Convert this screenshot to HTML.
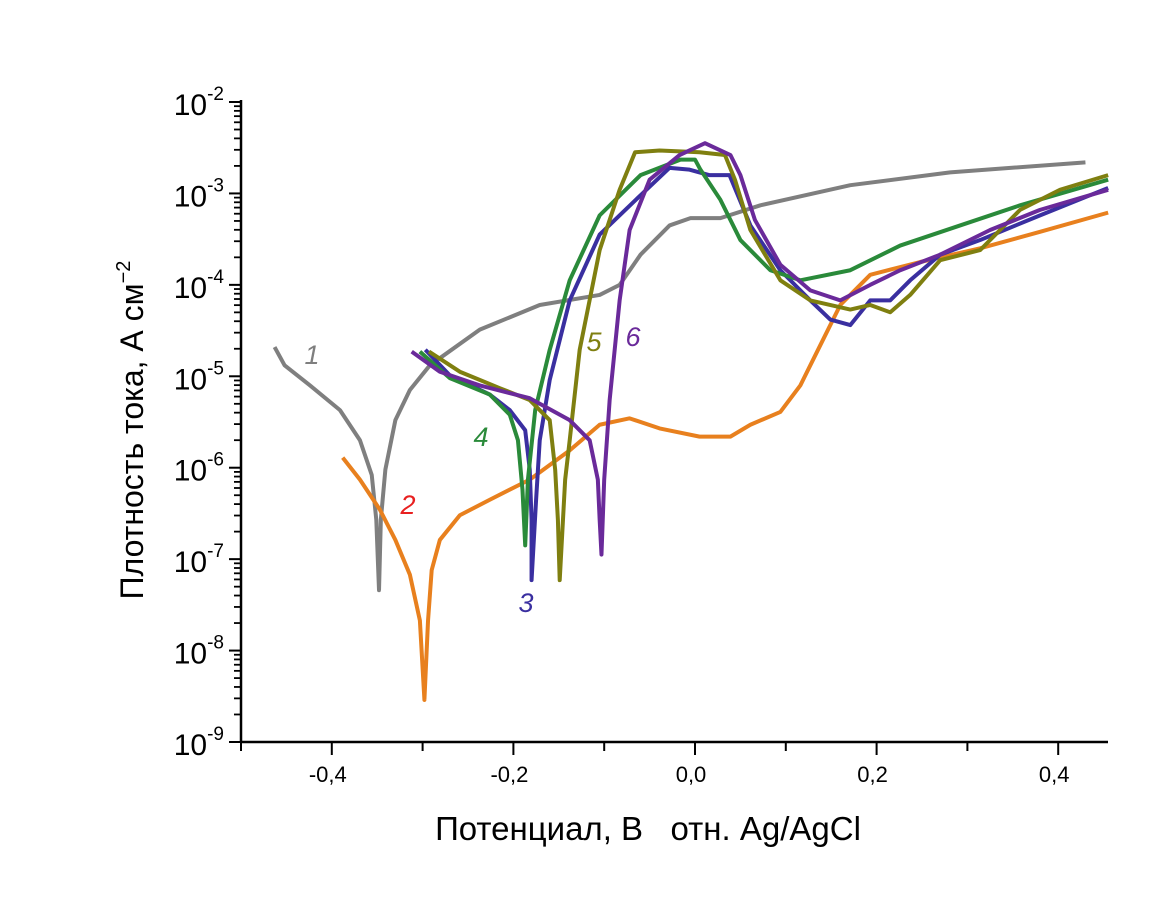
<!DOCTYPE html>
<html><head><meta charset="utf-8"><style>
body{margin:0;background:#fff}
svg text{font-family:"Liberation Sans",sans-serif}
</style></head><body>
<svg id="c" width="1175" height="909" xmlns="http://www.w3.org/2000/svg"></svg>
<script>
const xTicks=[-0.4,-0.2,0.0,0.2,0.4];
const xTickLabels=["-0,4","-0,2","0,0","0,2","0,4"];
const yDecades=[-9,-8,-7,-6,-5,-4,-3,-2];
const s1E=[-0.463,-0.452,-0.424,-0.391,-0.369,-0.356,-0.351,-0.348,-0.346,-0.341,-0.330,-0.314,-0.292,-0.237,-0.171,-0.105,-0.083,-0.060,-0.028,-0.005,0.028,0.072,0.171,0.281,0.430];
const s1L=[-4.68,-4.88,-5.10,-5.37,-5.70,-6.08,-6.57,-7.34,-6.57,-6.02,-5.48,-5.15,-4.88,-4.49,-4.22,-4.11,-4.00,-3.67,-3.35,-3.27,-3.27,-3.13,-2.91,-2.77,-2.66];
const s2E=[-0.388,-0.369,-0.347,-0.330,-0.314,-0.303,-0.298,-0.294,-0.290,-0.281,-0.259,-0.226,-0.182,-0.138,-0.105,-0.072,-0.039,0.005,0.039,0.061,0.094,0.116,0.138,0.160,0.193,0.248,0.314,0.380,0.455];
const s2L=[-5.89,-6.13,-6.46,-6.79,-7.17,-7.67,-8.54,-7.67,-7.12,-6.79,-6.52,-6.35,-6.13,-5.81,-5.53,-5.46,-5.57,-5.66,-5.66,-5.53,-5.39,-5.10,-4.66,-4.22,-3.89,-3.75,-3.60,-3.42,-3.21];
const s3E=[-0.297,-0.270,-0.226,-0.204,-0.187,-0.182,-0.180,-0.180,-0.175,-0.171,-0.160,-0.138,-0.105,-0.060,-0.028,-0.006,0.016,0.038,0.061,0.094,0.127,0.149,0.171,0.193,0.215,0.237,0.270,0.314,0.380,0.455];
const s3L=[-4.71,-4.99,-5.20,-5.37,-5.59,-6.02,-6.57,-7.23,-6.35,-5.70,-5.04,-4.17,-3.45,-3.02,-2.72,-2.74,-2.80,-2.80,-3.35,-3.84,-4.17,-4.38,-4.44,-4.17,-4.17,-3.95,-3.67,-3.51,-3.24,-2.94];
const s4E=[-0.303,-0.270,-0.226,-0.204,-0.195,-0.190,-0.187,-0.184,-0.176,-0.160,-0.138,-0.105,-0.060,-0.016,0.000,0.006,0.028,0.050,0.083,0.116,0.171,0.226,0.292,0.358,0.455];
const s4L=[-4.73,-5.02,-5.20,-5.42,-5.70,-6.24,-6.85,-6.13,-5.37,-4.71,-3.95,-3.24,-2.80,-2.63,-2.63,-2.74,-3.07,-3.51,-3.84,-3.95,-3.84,-3.57,-3.35,-3.13,-2.85];
const s5E=[-0.293,-0.259,-0.215,-0.182,-0.160,-0.154,-0.151,-0.149,-0.143,-0.138,-0.127,-0.105,-0.083,-0.066,-0.039,0.005,0.033,0.044,0.061,0.094,0.127,0.171,0.193,0.215,0.237,0.270,0.314,0.358,0.402,0.455];
const s5L=[-4.73,-4.95,-5.13,-5.26,-5.48,-6.02,-6.57,-7.23,-6.13,-5.70,-4.71,-3.62,-2.96,-2.55,-2.53,-2.55,-2.58,-2.85,-3.40,-3.95,-4.17,-4.27,-4.22,-4.30,-4.11,-3.73,-3.62,-3.18,-2.96,-2.80];
const s6E=[-0.312,-0.281,-0.237,-0.182,-0.138,-0.116,-0.107,-0.105,-0.103,-0.100,-0.094,-0.083,-0.072,-0.050,-0.017,0.011,0.039,0.050,0.066,0.094,0.127,0.160,0.193,0.226,0.270,0.325,0.380,0.455];
const s6L=[-4.73,-4.95,-5.10,-5.24,-5.48,-5.70,-6.13,-6.57,-6.95,-6.13,-5.26,-4.17,-3.40,-2.85,-2.58,-2.45,-2.58,-2.80,-3.29,-3.78,-4.06,-4.17,-4.00,-3.84,-3.67,-3.40,-3.18,-2.96];
const seriesNames=["1","2","3","4","5","6"];

const svg=document.getElementById('c');
const NS="http://www.w3.org/2000/svg";
const X0=241,X1=1108,Y0=102,Y1=742;
const xs=v=>X0+(v+0.5)*908;
const ys=l=>Y0+(-2-l)*(Y1-Y0)/7;
function mk(t,a,p){const e=document.createElementNS(NS,t);for(const k in a)e.setAttribute(k,a[k]);(p||svg).appendChild(e);return e;}

const ax=mk('g',{});


mk('line',{x1:X0,y1:Y0-2,x2:X0,y2:Y1,stroke:'#000','stroke-width':2.5},ax);
mk('line',{x1:X0,y1:Y1,x2:X1,y2:Y1,stroke:'#000','stroke-width':2.5},ax);
for(let v=-0.5;v<=0.451;v+=0.1){const x=xs(v);const major=Math.abs(Math.round(v*10))%2===0;
  mk('line',{x1:x,y1:Y1,x2:x,y2:Y1+(major?13:9),stroke:'#000','stroke-width':2},ax);}
xTicks.forEach((v,i)=>{const t=mk('text',{x:xs(v)-4,y:Y1+40,'text-anchor':'middle','font-size':22},ax);t.textContent=xTickLabels[i];
  
  });
yDecades.forEach(d=>{const y=ys(d);mk('line',{x1:X0-12,y1:y,x2:X0,y2:y,stroke:'#000','stroke-width':2},ax);
  const t=mk('text',{x:X0-17,y:y+13,'text-anchor':'end','font-size':30},ax);
  
  
  t.innerHTML='10<tspan dy="-15" font-size="19">'+d+'</tspan>';
  if(d<-2)for(let m=2;m<=9;m++){const yy=ys(d+Math.log10(m));mk('line',{x1:X0-7,y1:yy,x2:X0,y2:yy,stroke:'#000','stroke-width':1.8},ax);}
});
let t=mk('text',{x:648,y:840,'text-anchor':'middle','font-size':33,style:'white-space:pre'});


t.textContent='Потенциал, В   отн. Ag/AgCl';
t=mk('text',{x:0,y:0,'text-anchor':'middle','font-size':32,transform:'translate(143,430) rotate(-90)'});


t.innerHTML='Плотность тока, А см<tspan dy="-13" font-size="20">−2</tspan>';

const data=[[s1E,s1L,'#7f7f7f'],[s2E,s2L,'#e8801e'],[s3E,s3L,'#3a2fa0'],[s4E,s4L,'#2a8a3a'],[s5E,s5L,'#7f7f10'],[s6E,s6L,'#6a2a9a']];
data.forEach((d,i)=>{const pts=d[0].map((e,j)=>xs(e)+','+ys(d[1][j])).join(' ');
  const p=mk('polyline',{points:pts,fill:'none',stroke:d[2],'stroke-width':4,'stroke-linejoin':'round'});
  
  });
const labs=[[312,364,'#7f7f7f'],[408,514,'#e82020'],[526,612,'#3a2fa0'],[481,446,'#2a8a3a'],[594,351,'#7f7f10'],[633,346,'#6a2a9a']];
labs.forEach((L,i)=>{const tt=mk('text',{x:L[0],y:L[1],'text-anchor':'middle','font-size':27,'font-style':'italic',fill:L[2]});tt.textContent=seriesNames[i];
  
  });
</script>
</body></html>
